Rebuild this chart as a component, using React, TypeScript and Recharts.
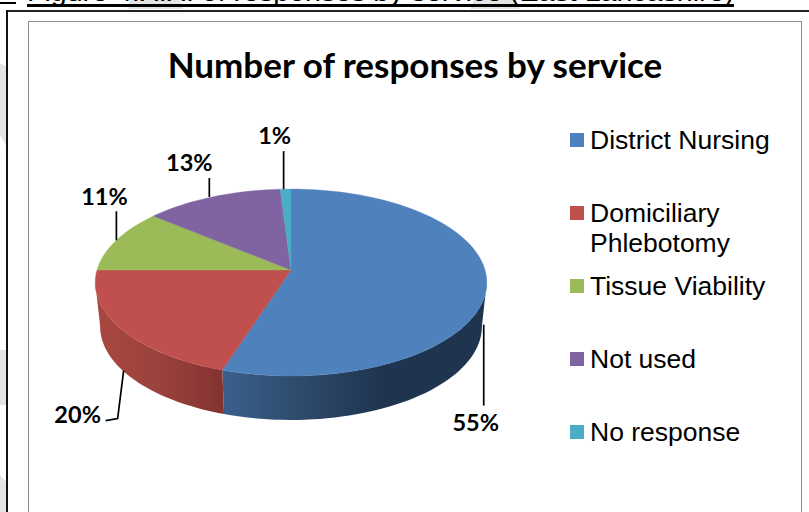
import React from 'react'
import { PieChart, Pie, Legend } from 'recharts'

const services = ['District Nursing', 'Domiciliary\nPhlebotomy', 'Tissue Viability', 'Not used', 'No response']
const shares = [55, 20, 11, 13, 1]
const sliceColors = ['#4F81BD', '#C0504D', '#9BBB59', '#8064A2', '#4BACC6']
const wallColors = ['url(#wallBlue)', 'url(#wallRed)', '#7A9648', '#64507F', '#3A8A9E']

const slices = services.map((name, i) => ({ name, value: shares[i], fill: sliceColors[i] }))
const walls = services.map((name, i) => ({ name, value: shares[i], fill: wallColors[i] }))

// perspective of the tilted disc
const TILT = 0.473
const KEYSTONE = -0.134
const DEPTH = 44
const FLOOR_SCALE = 0.975
// part of the rim whose side wall faces the viewer, clockwise from 12 o'clock
const WALL_FROM = 97.5
const WALL_TO = 262.5

// leader lines and text, relative to the rim point at each slice's middle
const labelLayout = [
  { line: [[-3, 40], [-3, 121]], text: [-11, 137] },
  { line: [[3, 42], [-3, 90], [-15, 92]], text: [-43, 85] },
  { line: [[0, 0], [0, -29]], text: [-12, -44] },
  { line: [[-3, 0], [-3, -19]], text: [-23, -35] },
  { line: [[-2, 0], [-2, -38]], text: [-11, -54] },
]

const project = (cx: number, cy: number, r: number, theta: number) => {
  const rad = (theta * Math.PI) / 180
  const u = Math.sin(rad)
  const v = -Math.cos(rad)
  const w = 1 + KEYSTONE * v
  return [cx + (r * u) / w, cy + (r * TILT * v) / w]
}

const arcPoints = (cx: number, cy: number, r: number, from: number, to: number) => {
  const steps = Math.max(2, Math.ceil((to - from) / 2))
  const pts: number[][] = []
  for (let i = 0; i <= steps; i++) {
    pts.push(project(cx, cy, r, from + ((to - from) * i) / steps))
  }
  return pts
}

const toPath = (pts: number[][]) =>
  pts.map((p, i) => `${i ? 'L' : 'M'}${p[0].toFixed(2)} ${p[1].toFixed(2)}`).join(' ') + ' Z'

const TopFace = (props: any) => {
  const { cx, cy, outerRadius, startAngle, endAngle, fill } = props
  const pts = arcPoints(cx, cy, outerRadius, 90 - startAngle, 90 - endAngle)
  return <path d={toPath([[cx, cy], ...pts])} fill={fill} stroke={fill} strokeWidth={0.4} />
}

const SideWall = (props: any) => {
  const { cx, cy, outerRadius, startAngle, endAngle, fill } = props
  const from = Math.max(90 - startAngle, WALL_FROM)
  const to = Math.min(90 - endAngle, WALL_TO)
  if (to <= from) return <g />
  const rim = arcPoints(cx, cy, outerRadius, from, to)
  const floor = rim.map(([x, y]) => [cx + (x - cx) * FLOOR_SCALE, y + DEPTH]).reverse()
  return <path d={toPath([...rim, ...floor])} fill={fill} />
}

const SliceLabel = (props: any) => {
  const { cx, cy, outerRadius, midAngle, value, index } = props
  const [ax, ay] = project(cx, cy, outerRadius, 90 - midAngle)
  const layout = labelLayout[index]
  const line = layout.line.map(([dx, dy]) => `${ax + dx},${ay + dy}`).join(' ')
  return (
    <g>
      <polyline points={line} fill="none" stroke="#000" strokeWidth={1.7} />
      <text
        x={ax + layout.text[0]}
        y={ay + layout.text[1]}
        textAnchor="middle"
        dominantBaseline="central"
        fontFamily="Lato, sans-serif"
        fontWeight={700}
        fontSize={23.5}
        fill="#000"
      >
        {value}%
      </text>
    </g>
  )
}

const LegendRows = ({ payload }: any) => (
  <div style={{ fontFamily: '"Liberation Sans", Arial, sans-serif', fontSize: 26.5, lineHeight: '30px', color: '#000' }}>
    {(payload || [])
      .filter((entry: any) => entry.type !== 'none')
      .map((entry: any) => (
        <div key={entry.value} style={{ position: 'relative', height: 73 }}>
          <div style={{ position: 'absolute', left: 1, top: 10, width: 14, height: 14, background: entry.color }} />
          <div style={{ position: 'absolute', left: 21, top: 2, whiteSpace: 'pre' }}>{entry.value}</div>
        </div>
      ))}
  </div>
)

const block = (left: number, top: number, width: number, height: number, background: string) => (
  <div style={{ position: 'absolute', left, top, width, height, background }} />
)

export default function App() {
  return (
    <div style={{ position: 'absolute', left: 0, top: 0, width: 809, height: 512, overflow: 'hidden', background: '#fff' }}>
      {/* page furniture around the chart */}
      <svg width={809} height={512} style={{ position: 'absolute', left: 0, top: 0 }}>
        <polygon points="0,63 7,67 7,147 0,135" fill="#e4e4e4" />
        <polygon points="0,350 7,350 7,405 0,405" fill="#e4e4e4" />
        <polygon points="0,475 7,483 7,512 0,512" fill="#e4e4e4" />
        <polygon points="130,0 180,0 183,9 128,9" fill="#e4e4e4" />
        <polygon points="474,0 515,0 520,9 470,9" fill="#e4e4e4" />
        <text x={27} y={1} fontFamily='"Liberation Sans", Arial, sans-serif' fontSize={25} textLength={707} lengthAdjust="spacingAndGlyphs">
          Figure 4.X.X: of responses by service (East Lancashire)
        </text>
      </svg>
      {block(0, 2, 16, 2, '#000')}
      {block(27, 4, 707, 3, '#000')}
      {block(7, 10, 802, 2, '#222')}
      {block(6, 10, 2, 502, '#111')}
      <div
        style={{
          position: 'absolute',
          left: 28,
          top: 21,
          width: 772,
          height: 500,
          border: '1.5px solid #8c8c8c',
          background: '#fff',
        }}
      />
      <div style={{ position: 'absolute', left: 0, top: 0 }}>
        <PieChart width={809} height={512} margin={{ top: 0, right: 0, bottom: 0, left: 0 }}>
          <defs>
            <linearGradient id="wallBlue" gradientUnits="userSpaceOnUse" x1={220} y1={0} x2={490} y2={0}>
              <stop offset="0" stopColor="#3B608C" />
              <stop offset="0.3" stopColor="#2D4A6B" />
              <stop offset="0.6" stopColor="#1F344F" />
              <stop offset="1" stopColor="#1F344F" />
            </linearGradient>
            <linearGradient id="wallRed" gradientUnits="userSpaceOnUse" x1={96} y1={0} x2={222} y2={0}>
              <stop offset="0" stopColor="#A9473F" />
              <stop offset="0.5" stopColor="#9A423D" />
              <stop offset="1" stopColor="#843331" />
            </linearGradient>
          </defs>
          <text
            x={415}
            y={64}
            textAnchor="middle"
            dominantBaseline="central"
            fontFamily="Lato, sans-serif"
            fontWeight={700}
            fontSize={35}
            fill="#000"
          >
            Number of responses by service
          </text>
          <Pie
            data={walls}
            dataKey="value"
            nameKey="name"
            cx={291}
            cy={270}
            outerRadius={194}
            startAngle={90}
            endAngle={-270}
            stroke="none"
            legendType="none"
            shape={SideWall}
            isAnimationActive={false}
          />
          <Pie
            data={slices}
            dataKey="value"
            nameKey="name"
            cx={291}
            cy={270}
            outerRadius={194}
            startAngle={90}
            endAngle={-270}
            stroke="none"
            shape={TopFace}
            label={SliceLabel}
            labelLine={false}
            isAnimationActive={false}
          />
          <Legend
            content={LegendRows}
            itemSorter={null}
            wrapperStyle={{ left: 569, top: 123, width: 232, bottom: 'auto' }}
          />
        </PieChart>
      </div>
    </div>
  )
}
